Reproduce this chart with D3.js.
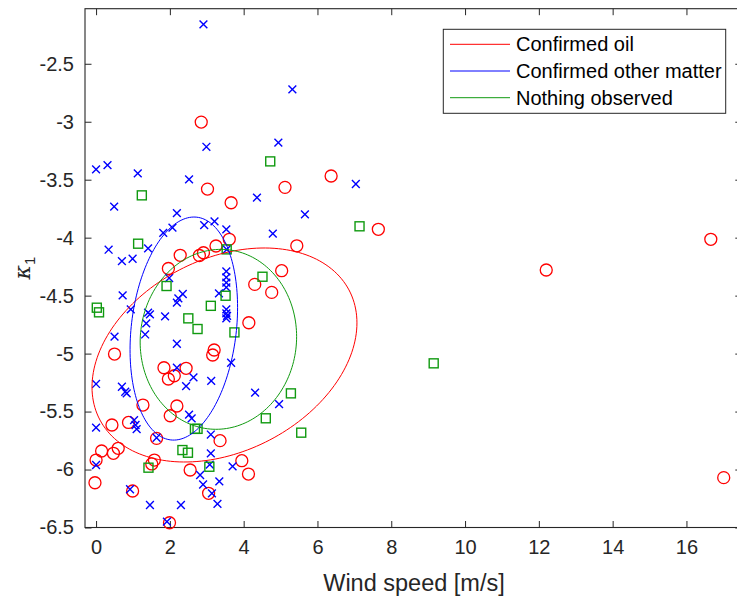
<!DOCTYPE html>
<html>
<head>
<meta charset="utf-8">
<script src="https://cdn.jsdelivr.net/npm/d3@7"></script>
<style>
  body { margin: 0; background: #fff; }
  svg text { font-family: "Liberation Sans", Arial, Helvetica, sans-serif; }
</style>
</head>
<body>
<svg id="chart" width="737" height="603"></svg>
<script>
// Confirmed oil
const oilX = [2.85,3.02,3.66,5.12,6.37,7.65,5.44,3.61,3.25,2.91,2.80,2.28,1.96,5.03,4.30,4.76,4.14,3.20,3.16,0.50,1.84,2.44,2.12,1.96,1.27,2.19,2.01,0.43,0.88,1.64,3.36,0.15,0.47,0.60,0.00,1.58,1.51,2.55,3.95,4.13,-0.03,0.99,3.05,1.99,16.66,12.20,17.01];
const oilY = [-3.003,-3.581,-3.699,-3.566,-3.468,-3.928,-4.070,-4.014,-4.072,-4.130,-4.154,-4.152,-4.266,-4.285,-4.403,-4.472,-4.734,-4.969,-5.012,-5.004,-5.122,-5.127,-5.191,-5.219,-5.444,-5.452,-5.536,-5.616,-5.594,-5.731,-5.751,-5.840,-5.860,-5.817,-5.918,-5.918,-5.952,-6.004,-5.924,-6.039,-6.114,-6.185,-6.205,-6.459,-4.014,-4.279,-6.070];

// Confirmed other matter
const otherX = [2.91,2.99,5.32,4.94,0.00,0.31,1.13,2.52,7.04,4.36,5.66,4.79,0.49,2.19,1.82,2.07,2.93,3.21,3.53,3.54,0.34,1.41,0.70,0.99,3.53,3.53,3.53,3.53,3.33,1.98,0.72,2.35,2.23,2.19,0.94,1.41,1.46,1.36,1.87,3.53,3.53,3.55,3.53,1.33,0.50,2.19,3.66,2.19,2.64,2.44,3.12,4.31,0.00,0.70,0.79,0.83,4.96,2.52,2.59,0.00,1.03,1.07,1.10,1.64,3.11,3.11,3.08,0.00,3.70,2.82,2.90,3.34,0.92,3.14,3.29,1.46,2.30,1.92];
const otherY = [-2.160,-3.216,-2.721,-3.181,-3.411,-3.375,-3.445,-3.497,-3.537,-3.654,-3.799,-3.965,-3.732,-3.788,-3.958,-3.913,-3.891,-3.859,-3.928,-4.102,-4.104,-4.092,-4.202,-4.182,-4.290,-4.342,-4.387,-4.428,-4.480,-4.348,-4.497,-4.486,-4.523,-4.561,-4.618,-4.647,-4.661,-4.739,-4.679,-4.618,-4.653,-4.674,-4.696,-4.835,-4.854,-4.915,-5.079,-5.122,-5.205,-5.280,-5.236,-5.336,-5.262,-5.286,-5.329,-5.343,-5.435,-5.526,-5.558,-5.638,-5.573,-5.616,-5.651,-5.726,-5.698,-5.860,-5.957,-5.961,-5.972,-6.047,-6.129,-6.102,-6.170,-6.205,-6.297,-6.306,-6.306,-6.450];

// Nothing observed
const noneX = [1.24,4.72,7.14,3.54,1.14,4.51,3.51,3.11,1.91,2.50,2.75,3.75,0.02,0.08,2.68,2.75,2.34,2.49,1.42,3.07,5.28,4.60,5.56,9.15];
const noneY = [-3.635,-3.342,-3.902,-4.101,-4.052,-4.337,-4.501,-4.588,-4.417,-4.696,-4.788,-4.817,-4.604,-4.644,-5.649,-5.649,-5.832,-5.855,-5.984,-5.976,-5.343,-5.558,-5.682,-5.084];

// Spread ellipses per class: centre, x/y standard spread and correlation
const classNames = ["Confirmed oil", "Confirmed other matter", "Nothing observed"];
const ellCX  = [3.48, 2.378, 3.315];
const ellCY  = [-5.012, -4.784, -4.877];
const ellSX  = [3.59, 1.457, 2.12];
const ellSY  = [0.923, 0.962, 0.776];
const ellRho = [0.30, 0.19, 0.03];

// Axis ticks
const xTicks = [0, 2, 4, 6, 8, 10, 12, 14, 16];
const xTickLabels = ["0", "2", "4", "6", "8", "10", "12", "14", "16"];
const yTicks = [-6.5, -6, -5.5, -5, -4.5, -4, -3.5, -3, -2.5];
const yTickLabels = ["-6.5", "-6", "-5.5", "-5", "-4.5", "-4", "-3.5", "-3", "-2.5"];

const colors = ["#ff0000", "#0000ff", "#109a10"];
const axisColor = "#262626";

const svg = d3.select("#chart");
const plot = { left: 85, top: 8.7, right: 741.8, bottom: 527.5 };

const x = d3.scaleLinear().domain([-0.3, 17.5]).range([plot.left, plot.right]);
const y = d3.scaleLinear().domain([-6.5, -2.025]).range([plot.bottom, plot.top]);

// Axes (box with inward ticks on all sides)
const tickLen = 6.5;
const gx = svg.append("g").attr("transform", `translate(0,${plot.bottom})`)
  .call(d3.axisBottom(x).tickValues(xTicks).tickSize(-tickLen).tickPadding(12)
        .tickFormat((d, i) => xTickLabels[i]));
const gxTop = svg.append("g").attr("transform", `translate(0,${plot.top})`)
  .call(d3.axisTop(x).tickValues(xTicks).tickSize(-tickLen).tickFormat(""));
const gy = svg.append("g").attr("transform", `translate(${plot.left},0)`)
  .call(d3.axisLeft(y).tickValues(yTicks).tickSize(-tickLen).tickPadding(11)
        .tickFormat((d, i) => yTickLabels[i]));
const gyRight = svg.append("g").attr("transform", `translate(${plot.right},0)`)
  .call(d3.axisRight(y).tickValues(yTicks).tickSize(-tickLen).tickFormat(""));

[gx, gxTop, gy, gyRight].forEach(g => {
  g.selectAll(".domain").remove();
  g.selectAll(".tick line").attr("stroke", axisColor).attr("stroke-width", 1);
  g.selectAll(".tick text").attr("fill", axisColor).style("font-size", "20px");
});
// outer box
svg.append("rect")
  .attr("x", plot.left).attr("y", plot.top)
  .attr("width", plot.right - plot.left).attr("height", plot.bottom - plot.top)
  .attr("fill", "none").attr("stroke", axisColor).attr("stroke-width", 1.1);

// Markers
const pts = svg.append("g");
pts.selectAll("circle.oil").data(oilX.map((v, i) => [v, oilY[i]])).join("circle")
  .attr("class", "oil")
  .attr("cx", d => x(d[0])).attr("cy", d => y(d[1])).attr("r", 6)
  .attr("fill", "none").attr("stroke", colors[0]).attr("stroke-width", 1.3);

const xr = 3.9;
pts.selectAll("path.other").data(otherX.map((v, i) => [v, otherY[i]])).join("path")
  .attr("class", "other")
  .attr("d", d => {
    const cx = x(d[0]), cy = y(d[1]);
    return `M${cx - xr},${cy - xr}L${cx + xr},${cy + xr}M${cx - xr},${cy + xr}L${cx + xr},${cy - xr}`;
  })
  .attr("fill", "none").attr("stroke", colors[1]).attr("stroke-width", 1.4);

const sq = 4.5;
pts.selectAll("rect.none").data(noneX.map((v, i) => [v, noneY[i]])).join("rect")
  .attr("class", "none")
  .attr("x", d => x(d[0]) - sq).attr("y", d => y(d[1]) - sq)
  .attr("width", 2 * sq).attr("height", 2 * sq)
  .attr("fill", "none").attr("stroke", colors[2]).attr("stroke-width", 1.4);

// Ellipses
const line = d3.line().x(d => x(d[0])).y(d => y(d[1])).curve(d3.curveLinearClosed);
const ts = d3.range(0, 360, 2).map(a => a * Math.PI / 180);
classNames.forEach((name, k) => {
  const r = ellRho[k], s = Math.sqrt(1 - r * r);
  const ring = ts.map(t => [
    ellCX[k] + ellSX[k] * Math.cos(t),
    ellCY[k] + ellSY[k] * (r * Math.cos(t) + s * Math.sin(t))
  ]);
  svg.append("path").attr("d", line(ring))
    .attr("fill", "none").attr("stroke", colors[k]).attr("stroke-width", 1);
});

// Axis labels
svg.append("text")
  .attr("x", 414).attr("y", 591)
  .attr("text-anchor", "middle").attr("fill", axisColor)
  .style("font-size", "23.5px").text("Wind speed [m/s]");

const yl = svg.append("text")
  .attr("transform", "translate(30,268) rotate(-90)")
  .attr("text-anchor", "middle").attr("fill", axisColor)
  .style("font-size", "22px");
yl.append("tspan").style("font-family", "'DejaVu Serif', serif").style("font-style", "italic").text("κ");
yl.append("tspan").attr("dy", 5).style("font-size", "15px").text("1");

// Legend
const lg = svg.append("g");
lg.append("rect").attr("x", 443.3).attr("y", 29.3).attr("width", 282.4).attr("height", 84)
  .attr("fill", "#fff").attr("stroke", axisColor).attr("stroke-width", 1);
classNames.forEach((name, k) => {
  const ly = 44.3 + k * 26.7;
  lg.append("line").attr("x1", 450).attr("x2", 510).attr("y1", ly).attr("y2", ly)
    .attr("stroke", colors[k]).attr("stroke-width", 1);
  lg.append("text").attr("x", 516).attr("y", ly).attr("dy", "0.35em")
    .attr("fill", "#000").style("font-size", "20px").text(name);
});
</script>
</body>
</html>
